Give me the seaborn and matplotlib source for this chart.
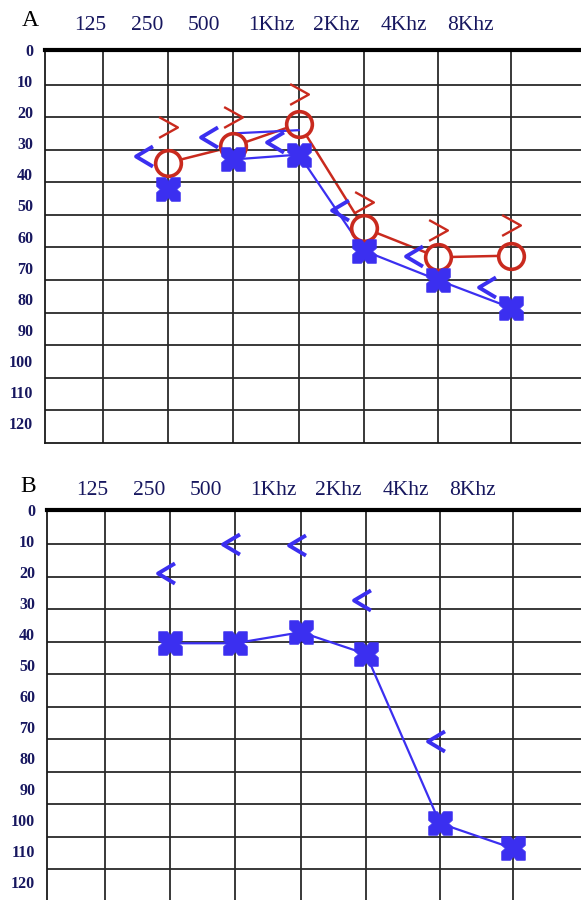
import numpy as np
import pandas as pd
import matplotlib
matplotlib.use("Agg")
import matplotlib.pyplot as plt
from matplotlib.path import Path
import seaborn as sns

# ---------------- data ----------------
freq_labels = ['125', '250', '500', '1Khz', '2Khz', '4Khz', '8Khz']
tested = ['250', '500', '1Khz', '2Khz', '4Khz', '8Khz']
db_ticks = list(range(0, 121, 10))

# Panel A
a_right_air = [34, 29, 22, 54, 63, 62.5]      # red circles
a_left_air = [42, 33, 31.5, 61, 70, 78.5]     # blue crosses
a_left_air_line_freqs = ['500', '1Khz', '2Khz', '4Khz', '8Khz']
a_left_air_line = [33, 31.5, 61, 70, 78.5]
a_extra_freqs = ['500', '1Khz']
a_extra_db = [25, 24]
a_right_bone = [23, 20, 13, 46, 54.5, 53]     # red >
a_left_bone = [32, 26, 27.5, 48.5, 62.5, 72]  # blue <

# Panel B
b_left_air = [40.4, 40.4, 37, 43.7, 95.8, 103.5]
b_bone_freqs = ['250', '500', '1Khz', '2Khz', '4Khz']
b_left_bone = [18.8, 10, 10.2, 27, 70.4]

# ---------------- layout / style ----------------
W, H = 581, 900
VLINES = [0, 58, 123, 188, 254, 319, 393, 466]         # vertical grid columns (axis units)
LABEL_POS = [45, 102, 159, 226, 291, 359, 425]          # top label positions (axis units)
XMAX = 536
LABEL_SCALE, LABEL_SHIFT = 0.954, -0.6                  # printed dB labels sit on a slightly compressed scale
col = {f: VLINES[i + 1] for i, f in enumerate(freq_labels)}

BLUE = '#3b2ff0'
RED = '#c92a1e'
NAVY = '#17175f'

sns.set_theme(style='white')
plt.rcParams['font.family'] = ['Liberation Serif', 'DejaVu Serif']

fig = plt.figure(figsize=(W / 100, H / 100), dpi=100)

def px_axes(left, top, bottom):
    return fig.add_axes([left / W, 1 - bottom / H, XMAX / W, (bottom - top) / H])

axA = px_axes(45, 50, 443)
axB = px_axes(47, 510, 902)

# custom markers
sq = [(-1, -1), (-0.26, -1), (0, -0.7), (0.26, -1), (1, -1), (1, -0.26), (0.7, 0), (1, 0.26),
      (1, 1), (0.26, 1), (0, 0.7), (-0.26, 1), (-1, 1), (-1, 0.26), (-0.7, 0), (-1, -0.26), (-1, -1)]
X_MARK = Path(sq, [Path.MOVETO] + [Path.LINETO] * (len(sq) - 2) + [Path.CLOSEPOLY])
LT = Path([(0.42, 0.5), (-0.42, 0), (0.42, -0.5)], [Path.MOVETO, Path.LINETO, Path.LINETO])
GT = Path([(-0.45, 0.5), (0.45, 0), (-0.45, -0.5)], [Path.MOVETO, Path.LINETO, Path.LINETO])


def style_axes(ax, label_pad, letter, letter_xy):
    ax.set_xlim(0, XMAX)
    ax.set_ylim(120, 0)
    ax.set_yticks([v * LABEL_SCALE + LABEL_SHIFT for v in db_ticks])
    ax.set_yticklabels([str(v) for v in db_ticks])
    ax.set_yticks(db_ticks[1:-1], minor=True)
    ax.set_xticks(LABEL_POS)
    ax.set_xticklabels(freq_labels)
    ax.set_xticks(VLINES[1:], minor=True)
    ax.xaxis.set_ticks_position('top')
    ax.tick_params(axis='x', which='both', length=0, top=True, bottom=False,
                   labeltop=True, labelbottom=False, pad=label_pad,
                   labelsize=15.5, labelcolor=NAVY)
    ax.tick_params(axis='y', which='both', length=0, pad=8.5, labelsize=11.5, labelcolor=NAVY)
    for t in ax.get_yticklabels():
        t.set_fontweight('bold')
    ax.grid(False)
    ax.yaxis.grid(True, which='minor', color='#2a2a2a', lw=1.3)
    ax.xaxis.grid(True, which='minor', color='#2a2a2a', lw=1.3)
    ax.set_axisbelow('line')   # grid at zorder 1.5
    for s in ['left', 'bottom']:
        ax.spines[s].set_visible(True)
        ax.spines[s].set_color('#1a1a1a')
        ax.spines[s].set_linewidth(1.3)
    ax.spines['top'].set_visible(True)
    ax.spines['top'].set_color('black')
    ax.spines['top'].set_linewidth(3.0)
    ax.spines['right'].set_visible(False)
    ax.set_xlabel('')
    ax.set_ylabel('')
    fig.text(letter_xy[0] / W, 1 - letter_xy[1] / H, letter, ha='center', va='center',
             fontsize=17, color='black')


def xs(freqs, offset=0):
    return [col[f] + offset for f in freqs]


def draw_line(ax, freqs, vals, color, lw, **kw):
    df = pd.DataFrame({'x': xs(freqs), 'y': vals})
    sns.lineplot(data=df, x='x', y='y', ax=ax, color=color, lw=lw, sort=False,
                 estimator=None, legend=False, **kw)


def draw_marks(ax, freqs, vals, marker, edge, size, mew, face, offset=0, z=4):
    df = pd.DataFrame({'x': xs(freqs, offset), 'y': vals})
    sns.lineplot(data=df, x='x', y='y', ax=ax, linestyle='none', marker=marker,
                 markersize=size, markeredgewidth=mew, markeredgecolor=edge,
                 markerfacecolor=face, color=edge if edge != 'none' else face,
                 sort=False, estimator=None, legend=False, zorder=z)


# ---------- Panel A ----------
draw_line(axA, tested, a_right_air, RED, 1.8, zorder=1.0)
draw_marks(axA, tested, a_right_air, 'o', 'none', 18.5, 0, 'white', z=1.2)   # masks the line inside circles
draw_marks(axA, tested, a_right_air, 'o', RED, 18.5, 2.6, 'none', z=3.8)
draw_line(axA, a_left_air_line_freqs, a_left_air_line, BLUE, 1.6, zorder=3.5)
draw_line(axA, a_extra_freqs, a_extra_db, BLUE, 1.6, zorder=3.5)
draw_marks(axA, tested, a_left_air, X_MARK, BLUE, 17, 0.5, BLUE, z=4)
draw_marks(axA, tested, a_right_bone, GT, RED, 15, 1.7, 'none', z=5)
draw_marks(axA, tested, a_left_bone, LT, BLUE, 14.5, 2.8, 'none', offset=-24, z=5)
style_axes(axA, 10.5, 'A', (30, 21))

# ---------- Panel B ----------
draw_line(axB, tested, b_left_air, BLUE, 1.6, zorder=2)
draw_marks(axB, tested, b_left_air, X_MARK, BLUE, 17, 0.5, BLUE, z=4)
draw_marks(axB, b_bone_freqs, b_left_bone, LT, BLUE, 14.5, 2.8, 'none', offset=-4, z=5)
style_axes(axB, 7.0, 'B', (28, 487))

fig.savefig('out.png', dpi=100)
